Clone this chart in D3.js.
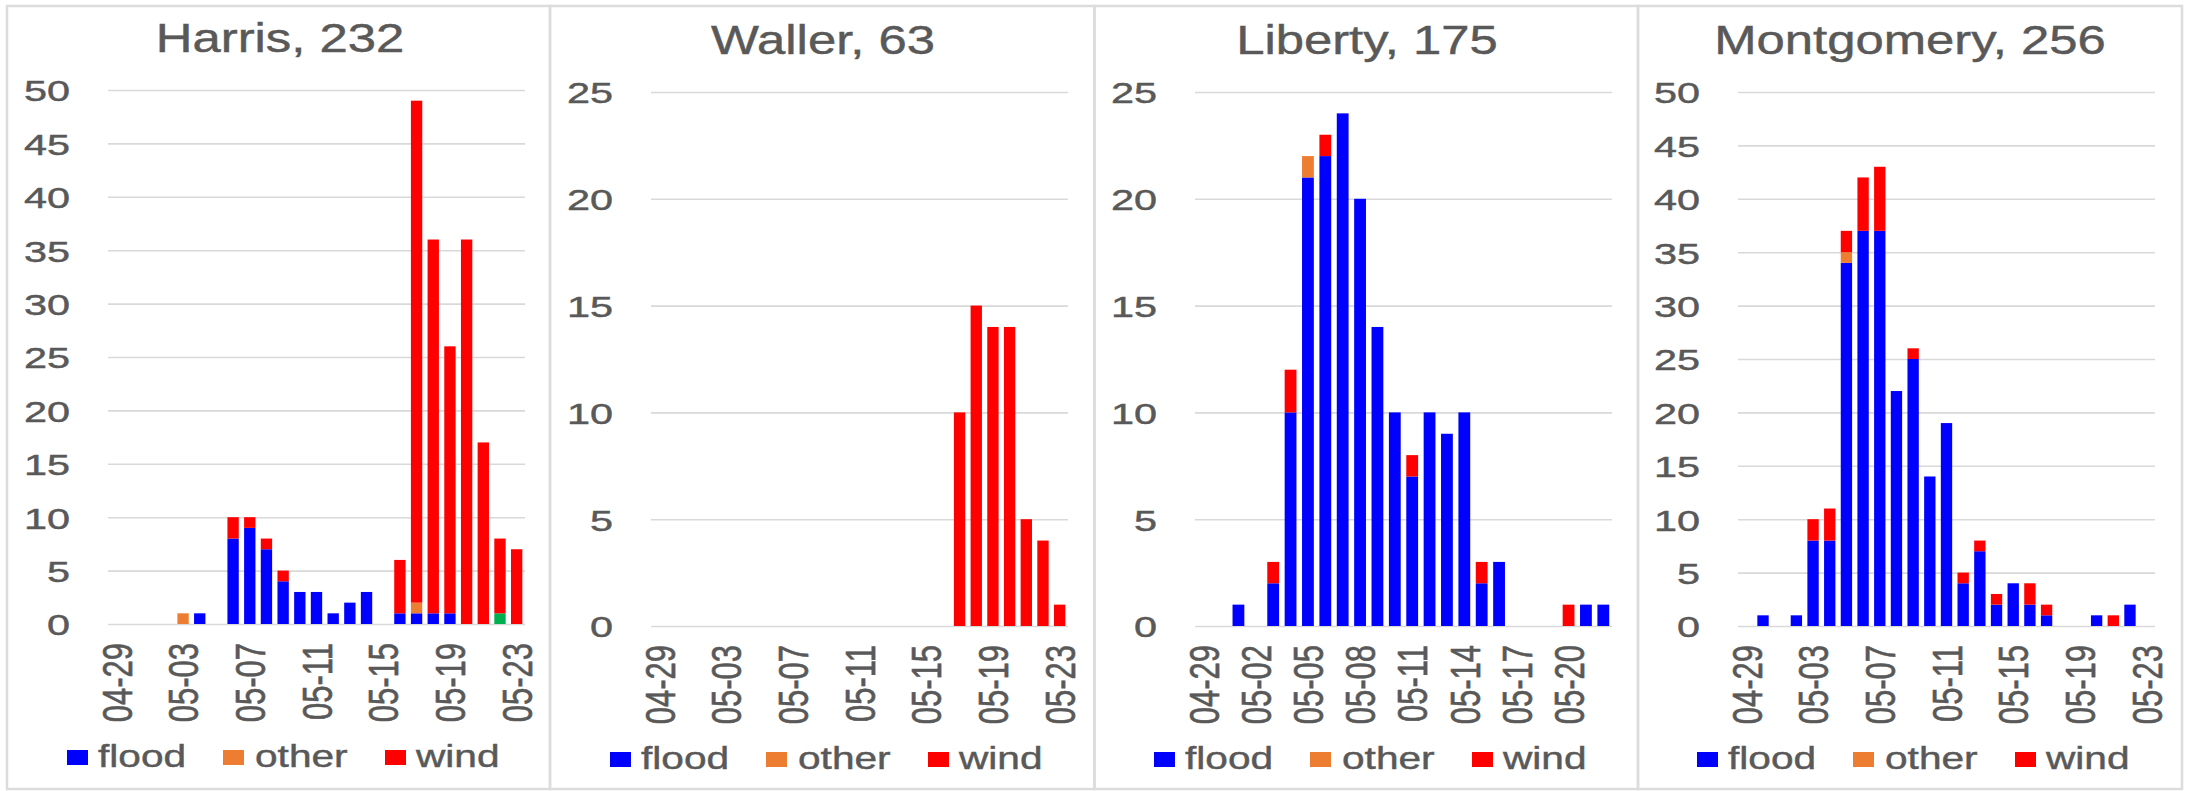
<!DOCTYPE html>
<html>
<head>
<meta charset="utf-8">
<script src="https://cdn.jsdelivr.net/npm/d3@7"></script>
<style>
  html, body { margin: 0; padding: 0; background: #ffffff; }
  svg { display: block; }
  text { font-family: "Liberation Sans", Arial, sans-serif; fill: #595959; stroke: #595959; stroke-width: 0.45px; }
</style>
</head>
<body>
<svg id="chart" width="2196" height="791"></svg>
<script>
// ---------------- DATA ----------------
const dates25 = ["04-29","04-30","05-01","05-02","05-03","05-04","05-05","05-06","05-07","05-08",
                 "05-09","05-10","05-11","05-12","05-13","05-14","05-15","05-16","05-17","05-18",
                 "05-19","05-20","05-21","05-22","05-23"];
const dates24 = ["04-29","04-30","05-01","05-02","05-03","05-04","05-05","05-06","05-07","05-08",
                 "05-09","05-10","05-11","05-12","05-13","05-14","05-15","05-16","05-17","05-18",
                 "05-19","05-20","05-21","05-22"];

const ticksEvery4 = ["04-29","05-03","05-07","05-11","05-15","05-19","05-23"];
const ticksEvery3 = ["04-29","05-02","05-05","05-08","05-11","05-14","05-17","05-20"];

const yTicks50 = [0,5,10,15,20,25,30,35,40,45,50];
const yTicks25 = [0,5,10,15,20,25];

const seriesNames = ["flood","other","hail","wind"];
const legendNames = ["flood","other","wind"];

// Harris, 232
const harrisFlood = [0,0,0,0,0,1,0,8,9,7,4,3,3,1,2,3,0,1,1,1,1,0,0,0,0];
const harrisOther = [0,0,0,0,1,0,0,0,0,0,0,0,0,0,0,0,0,0,1,0,0,0,0,0,0];
const harrisHail  = [0,0,0,0,0,0,0,0,0,0,0,0,0,0,0,0,0,0,0,0,0,0,0,1,0];
const harrisWind  = [0,0,0,0,0,0,0,2,1,1,1,0,0,0,0,0,0,5,47,35,25,36,17,7,7];

// Waller, 63
const wallerFlood = [0,0,0,0,0,0,0,0,0,0,0,0,0,0,0,0,0,0,0,0,0,0,0,0,0];
const wallerOther = [0,0,0,0,0,0,0,0,0,0,0,0,0,0,0,0,0,0,0,0,0,0,0,0,0];
const wallerHail  = [0,0,0,0,0,0,0,0,0,0,0,0,0,0,0,0,0,0,0,0,0,0,0,0,0];
const wallerWind  = [0,0,0,0,0,0,0,0,0,0,0,0,0,0,0,0,0,0,10,15,14,14,5,4,1];

// Liberty, 175
const libertyFlood = [0,0,1,0,2,10,21,22,24,20,14,10,7,10,9,10,2,3,0,0,0,0,1,1];
const libertyOther = [0,0,0,0,0,0,1,0,0,0,0,0,0,0,0,0,0,0,0,0,0,0,0,0];
const libertyHail  = [0,0,0,0,0,0,0,0,0,0,0,0,0,0,0,0,0,0,0,0,0,0,0,0];
const libertyWind  = [0,0,0,0,1,2,0,1,0,0,0,0,1,0,0,0,1,0,0,0,0,1,0,0];

// Montgomery, 256
const montgomeryFlood = [0,1,0,1,8,8,34,37,37,22,25,14,19,4,7,2,4,2,1,0,0,1,0,2,0];
const montgomeryOther = [0,0,0,0,0,0,1,0,0,0,0,0,0,0,0,0,0,0,0,0,0,0,0,0,0];
const montgomeryHail  = [0,0,0,0,0,0,0,0,0,0,0,0,0,0,0,0,0,0,0,0,0,0,0,0,0];
const montgomeryWind  = [0,0,0,0,2,3,2,5,6,0,1,0,0,1,1,1,0,2,1,0,0,0,1,0,0];

const panelTitles = ["Harris, 232","Waller, 63","Liberty, 175","Montgomery, 256"];

// ---------------- STYLE / LAYOUT ----------------
const colors = { flood: "#0000ff", other: "#ed7d31", hail: "#00b050", wind: "#ff0000" };

function buildRows(dates, flood, other, hail, wind) {
  return dates.map((d, i) => ({ date: d, flood: flood[i], other: other[i], hail: hail[i], wind: wind[i] }));
}

const panels = [
  { title: panelTitles[0], rows: buildRows(dates25, harrisFlood, harrisOther, harrisHail, harrisWind),
    dates: dates25, xTicks: ticksEvery4, yTicks: yTicks50, yMax: 50,
    boxL: 7, boxR: 550, plotL: 108, top: 90, zero: 624, dy: 0 },
  { title: panelTitles[1], rows: buildRows(dates25, wallerFlood, wallerOther, wallerHail, wallerWind),
    dates: dates25, xTicks: ticksEvery4, yTicks: yTicks25, yMax: 25,
    boxL: 550, boxR: 1094.5, plotL: 651, top: 92, zero: 626, dy: 2 },
  { title: panelTitles[2], rows: buildRows(dates24, libertyFlood, libertyOther, libertyHail, libertyWind),
    dates: dates24, xTicks: ticksEvery3, yTicks: yTicks25, yMax: 25,
    boxL: 1094.5, boxR: 1638, plotL: 1195, top: 92, zero: 626, dy: 2 },
  { title: panelTitles[3], rows: buildRows(dates25, montgomeryFlood, montgomeryOther, montgomeryHail, montgomeryWind),
    dates: dates25, xTicks: ticksEvery4, yTicks: yTicks50, yMax: 50,
    boxL: 1638, boxR: 2182, plotL: 1738, top: 92, zero: 626, dy: 2 }
];

const plotW = 417;
const sTitle = 1.27, sTick = 1.38, sXLab = 1.4, sLeg = 1.27;

const svg = d3.select("#chart");

panels.forEach(p => {
  // panel frame
  svg.append("rect")
    .attr("x", p.boxL).attr("y", 6)
    .attr("width", p.boxR - p.boxL).attr("height", 783)
    .attr("fill", "none").attr("stroke", "#dcdcdc").attr("stroke-width", 2.5);

  const g = svg.append("g").attr("transform", `translate(${p.plotL},0)`);

  const x = d3.scaleBand().domain(p.dates).range([0, plotW])
    .paddingInner(0.32).paddingOuter(0.16);
  const y = d3.scaleLinear().domain([0, p.yMax]).range([p.zero, p.top]);

  // y axis + gridlines
  const yAxis = g.append("g").call(
    d3.axisLeft(y).tickValues(p.yTicks).tickSize(-plotW).tickFormat(d3.format("d"))
  );
  yAxis.select(".domain").remove();
  yAxis.selectAll(".tick line").attr("stroke", "#d9d9d9").attr("stroke-width", 1.6);
  yAxis.selectAll(".tick text")
    .attr("x", -38 / sTick)
    .attr("dy", "0.36em")
    .attr("transform", `scale(${sTick},1)`)
    .style("font-size", "30px")
    .style("font-family", '"Liberation Sans", Arial, sans-serif')
    .attr("fill", "#595959");

  // stacked bars
  const stacked = d3.stack().keys(seriesNames)(p.rows);
  g.append("g").selectAll("g").data(stacked).join("g")
    .attr("fill", d => colors[d.key])
    .selectAll("rect")
    .data(d => d.filter(v => v[1] - v[0] > 0))
    .join("rect")
    .attr("x", d => x(d.data.date))
    .attr("width", x.bandwidth())
    .attr("y", d => y(d[1]))
    .attr("height", d => y(d[0]) - y(d[1]));

  // x axis labels
  const xAxis = g.append("g").attr("transform", `translate(0,${p.zero})`).call(
    d3.axisBottom(x).tickValues(p.xTicks).tickSize(0)
  );
  xAxis.select(".domain").remove();
  xAxis.selectAll(".tick text")
    .attr("x", 0).attr("y", 0).attr("dy", "0.35em")
    .attr("text-anchor", "end")
    .attr("transform", `translate(0,19) scale(${sXLab},1) rotate(-90)`)
    .style("font-size", "31px")
    .style("font-family", '"Liberation Sans", Arial, sans-serif')
    .attr("fill", "#595959");

  // title
  g.append("text")
    .attr("text-anchor", "middle")
    .attr("transform", `translate(172,${52 + p.dy}) scale(${sTitle},1)`)
    .style("font-size", "40px")
    .text(p.title);

  // legend
  const legX = [-41, 115, 277];
  const legTextX = [-10, 147, 308];
  const leg = g.append("g");
  legendNames.forEach((name, i) => {
    leg.append("rect")
      .attr("x", legX[i]).attr("y", 750 + p.dy)
      .attr("width", 21).attr("height", 15)
      .attr("fill", colors[name]);
    leg.append("text")
      .attr("transform", `translate(${legTextX[i]},${767 + p.dy}) scale(${sLeg},1)`)
      .style("font-size", "32px")
      .text(name);
  });
});
</script>
</body>
</html>
